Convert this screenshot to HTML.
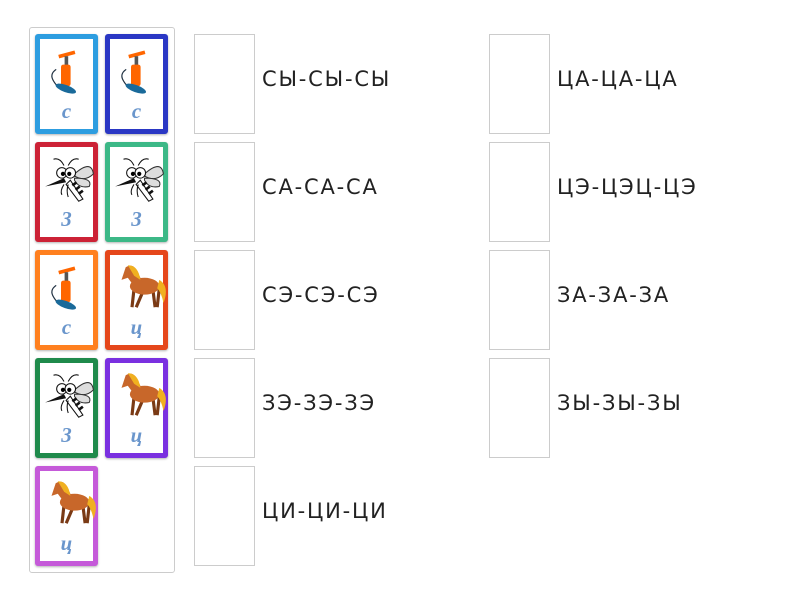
<!DOCTYPE html>
<html><head><meta charset="utf-8"><style>
body{margin:0;width:800px;height:600px;background:#fff;position:relative;font-family:"DejaVu Sans","Liberation Sans",sans-serif;overflow:hidden}
.panel{position:absolute;left:29px;top:27px;width:146px;height:546px;border:1px solid #ccc;border-radius:3px;box-sizing:border-box}
.card{position:absolute;width:63px;height:100px;box-sizing:border-box;border:5px solid;border-radius:3px;background:#fff;box-shadow:0 1px 2px rgba(0,0,0,.3)}
.card .l{position:absolute;left:0;right:0;top:60px;text-align:center;font:italic bold 21px "Liberation Serif",serif;color:#6a96cc}
.card svg{position:absolute;left:1px;top:4px}
.box{position:absolute;width:61px;height:100px;border:1px solid #ccc;box-sizing:border-box}
.t{position:absolute;font-size:21px;letter-spacing:1.8px;color:#222;line-height:24px}
</style></head><body>
<div class="panel"></div>
<svg width="0" height="0" style="position:absolute">
<defs>
<g id="pump0"><path d="M16 22 q-6 4 -2 10 q3 5 4 2" fill="none" stroke="#234" stroke-width="1"/><rect x="18" y="8" width="14" height="3" fill="#f60" transform="rotate(-15 25 10)"/><rect x="23" y="11" width="3" height="8" fill="#555"/><rect x="20" y="18" width="8" height="18" rx="2" fill="#f60"/><ellipse cx="24" cy="38" rx="9" ry="3" fill="#1a6a9a" transform="rotate(20 24 38)"/></g>
<g id="pump"><use href="#pump0" transform="translate(-4 0) scale(1.2)"/></g>
<g id="mos0"><path d="M30 18 q16 -14 18 0 q-8 8 -18 2z" fill="#ddd" stroke="#333"/><path d="M30 22 q18 0 14 8 q-10 2 -14 -6z" fill="#ddd" stroke="#333"/><path d="M26 24 l12 18 l-4 2 l-12 -16z" fill="#fff" stroke="#111"/><path d="M28 29 l4 -3 M31 33 l4 -3 M34 37 l4 -3" stroke="#111" stroke-width="2.5"/><circle cx="18" cy="17" r="5" fill="#fff" stroke="#111"/><circle cx="26" cy="17" r="5" fill="#fff" stroke="#111"/><circle cx="19" cy="18" r="2"/><circle cx="25" cy="18" r="2"/><path d="M20 22 l-18 8 l20 -4z" fill="#111"/><path d="M20 10 q-4 -8 -10 -6 M24 10 q4 -8 10 -6 M20 28 q-4 6 -2 10 M24 28 q-2 6 0 12" fill="none" stroke="#111"/></g>
<g id="mos"><use href="#mos0" transform="translate(2 4) scale(1.05)"/></g>
<g id="horse0"><path d="M22 26 l-2 18 M30 30 l-6 14 M40 28 l2 16 M46 26 l-2 18" fill="none" stroke="#7a3a15" stroke-width="3"/><ellipse cx="32" cy="24" rx="14" ry="8" fill="#c8672a"/><path d="M14 6 q6 -4 10 2 l6 12 l-8 4 l-6 -8 l-6 2z" fill="#c8672a"/><path d="M16 4 q10 0 12 14 l-6 -4z" fill="#f0b020"/><path d="M46 18 q10 6 4 22 q-2 -10 -6 -14z" fill="#f0b020"/></g>
<g id="horse"><use href="#horse0" transform="translate(0 2) scale(1.05)"/></g>
</defs></svg>

<div class="card" style="left:35px;top:34px;border-color:#2d9de0"><svg width="55" height="55"><use href="#pump"/></svg><div class="l">c</div></div>
<div class="card" style="left:105px;top:34px;border-color:#2a37c4"><svg width="55" height="55"><use href="#pump"/></svg><div class="l">c</div></div>
<div class="card" style="left:35px;top:142px;border-color:#cc2236"><svg width="55" height="55"><use href="#mos"/></svg><div class="l">3</div></div>
<div class="card" style="left:105px;top:142px;border-color:#3cb887"><svg width="55" height="55"><use href="#mos"/></svg><div class="l">3</div></div>
<div class="card" style="left:35px;top:250px;border-color:#ff801f"><svg width="55" height="55"><use href="#pump"/></svg><div class="l">c</div></div>
<div class="card" style="left:105px;top:250px;border-color:#e5471b"><svg width="55" height="55"><use href="#horse"/></svg><div class="l">ц</div></div>
<div class="card" style="left:35px;top:358px;border-color:#1f8a4b"><svg width="55" height="55"><use href="#mos"/></svg><div class="l">3</div></div>
<div class="card" style="left:105px;top:358px;border-color:#7a30e0"><svg width="55" height="55"><use href="#horse"/></svg><div class="l">ц</div></div>
<div class="card" style="left:35px;top:466px;border-color:#c55ad9"><svg width="55" height="55"><use href="#horse"/></svg><div class="l">ц</div></div>

<div class="box" style="left:194px;top:34px"></div><div class="t" style="left:262px;top:67px">СЫ-СЫ-СЫ</div>
<div class="box" style="left:194px;top:142px"></div><div class="t" style="left:262px;top:175px">СА-СА-СА</div>
<div class="box" style="left:194px;top:250px"></div><div class="t" style="left:262px;top:283px">СЭ-СЭ-СЭ</div>
<div class="box" style="left:194px;top:358px"></div><div class="t" style="left:262px;top:391px">ЗЭ-ЗЭ-ЗЭ</div>
<div class="box" style="left:194px;top:466px"></div><div class="t" style="left:262px;top:499px">ЦИ-ЦИ-ЦИ</div>
<div class="box" style="left:489px;top:34px"></div><div class="t" style="left:557px;top:67px">ЦА-ЦА-ЦА</div>
<div class="box" style="left:489px;top:142px"></div><div class="t" style="left:557px;top:175px">ЦЭ-ЦЭЦ-ЦЭ</div>
<div class="box" style="left:489px;top:250px"></div><div class="t" style="left:557px;top:283px">ЗА-ЗА-ЗА</div>
<div class="box" style="left:489px;top:358px"></div><div class="t" style="left:557px;top:391px">ЗЫ-ЗЫ-ЗЫ</div>
</body></html>
